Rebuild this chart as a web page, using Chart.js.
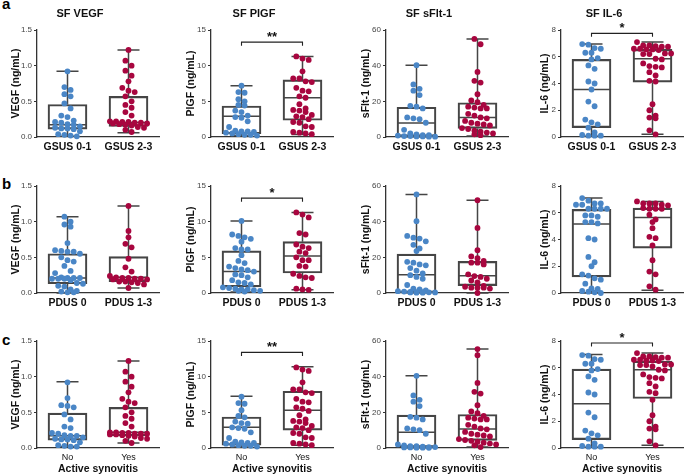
<!DOCTYPE html>
<html>
<head>
<meta charset="utf-8">
<script src="https://cdn.jsdelivr.net/npm/chart.js@4.4.0/dist/chart.umd.min.js"></script>
<style>
  body { margin: 0; background: #fff; }
  #wrap { position: relative; width: 685px; height: 475px; overflow: hidden; }
  #wrap canvas { position: absolute; }
  .tag { position: absolute; font: bold 15px 'Liberation Sans', Arial, sans-serif; line-height: 15px; color: #000; }
</style>
</head>
<body>
<div id="wrap">
  <div class="tag" style="left:2px;top:-4px">a</div>
  <div class="tag" style="left:2px;top:176px">b</div>
  <div class="tag" style="left:2px;top:332px">c</div>
</div>
<script>
// group labels per row
var gsusLabels = ['GSUS 0-1', 'GSUS 2-3'];
var pdusLabels = ['PDUS 0', 'PDUS 1-3'];
var synovitisLabels = ['No', 'Yes'];

var panelTitles = ['SF VEGF', 'SF PlGF', 'SF sFlt-1', 'SF IL-6'];
var yTitles = ['VEGF (ng/mL)', 'PlGF (ng/mL)', 'sFlt-1 (ng/mL)', 'IL-6 (ng/mL)'];
var yMax = [1.5, 15, 60, 8];
var yStep = [0.5, 5, 20, 2];

// ---- row a: GSUS ----
var gsusVegfLow = [0.92, 0.70, 0.66, 0.60, 0.57, 0.47, 0.40, 0.30, 0.28, 0.23, 0.21, 0.20, 0.18, 0.17, 0.15, 0.13, 0.12, 0.12, 0.11, 0.08, 0.04, 0.03, 0.02, 0.01];
var gsusVegfHigh = [1.22, 1.07, 1.00, 0.93, 0.86, 0.78, 0.69, 0.65, 0.63, 0.57, 0.50, 0.45, 0.41, 0.35, 0.30, 0.22, 0.22, 0.21, 0.21, 0.20, 0.20, 0.19, 0.19, 0.18, 0.17, 0.16, 0.14, 0.13, 0.10, 0.07];
var gsusPlgfLow = [7.2, 6.3, 6.2, 5.3, 5.0, 4.5, 4.4, 3.7, 3.5, 3.0, 2.8, 2.7, 2.2, 1.4, 0.9, 0.8, 0.8, 0.7, 0.6, 0.5, 0.4, 0.3, 0.3, 0.2];
var gsusPlgfHigh = [11.3, 11.0, 10.8, 9.2, 8.2, 8.2, 7.8, 7.7, 6.9, 6.5, 6.4, 5.7, 5.5, 4.6, 4.0, 3.8, 3.7, 3.5, 3.1, 2.9, 2.8, 2.5, 2.1, 2.0, 1.5, 1.4, 0.7, 0.6, 0.5, 0.4];
var gsusSfltLow = [40.3, 29.5, 27, 26, 23.5, 17.5, 17, 16, 11, 10.5, 10, 8, 4, 2, 1.5, 1, 1, 0.8, 0.5, 0.5, 0.3, 0.3, 0.2, 0.2];
var gsusSfltHigh = [55, 52, 36.5, 31.5, 30.5, 24, 20.5, 19.5, 18, 17, 16.5, 16, 16, 13, 12, 11, 10.5, 9, 8, 7.5, 7, 6.5, 5, 4.5, 3.5, 3, 2.5, 2, 1.5, 1];
var gsusIl6Low = [6.95, 6.9, 6.65, 6.6, 6.3, 6.3, 5.9, 5.8, 5.35, 5.1, 4.15, 4.0, 3.55, 2.65, 2.3, 1.3, 1.1, 0.95, 0.7, 0.35, 0.15, 0.1, 0.1, 0.1];
var gsusIl6High = [7.1, 6.85, 6.85, 6.8, 6.75, 6.75, 6.6, 6.6, 6.55, 6.55, 6.5, 6.25, 6.25, 6.2, 6.2, 5.85, 5.8, 5.5, 5.3, 5.25, 5.2, 4.85, 4.6, 4.2, 4.15, 2.45, 2.0, 1.6, 1.45, 1.4, 0.5, 0.2];
// box stats: [min, q1, median, q3, max]
var gsusVegfBox = [[0.01, 0.11, 0.17, 0.455, 0.92], [0.06, 0.15, 0.205, 0.57, 1.22]];
var gsusPlgfBox = [[0.2, 0.45, 2.9, 4.35, 7.2], [0.35, 2.35, 5.5, 8.0, 11.3]];
var gsusSfltBox = [[0.2, 0.4, 7.8, 16.7, 40.3], [0.5, 4.8, 11, 19.2, 55]];
var gsusIl6Box = [[0.05, 0.7, 3.55, 5.8, 6.95], [0.2, 4.1, 5.85, 6.55, 7.1]];
var gsusStars = ['', '**', '', '*'];
var gsusBracket = [null, 13.3, null, 7.75];

// ---- row b: PDUS ----
var pdusVegfLow = [1.07, 1.0, 0.96, 0.93, 0.70, 0.60, 0.59, 0.58, 0.58, 0.55, 0.50, 0.46, 0.44, 0.38, 0.31, 0.28, 0.22, 0.21, 0.21, 0.21, 0.20, 0.20, 0.20, 0.18, 0.14, 0.13, 0.10, 0.09, 0.05, 0.03, 0.02, 0.01, 0.01];
var pdusVegfHigh = [1.22, 0.87, 0.78, 0.69, 0.64, 0.48, 0.36, 0.30, 0.24, 0.22, 0.21, 0.21, 0.20, 0.20, 0.19, 0.19, 0.16, 0.16, 0.15, 0.14, 0.12, 0.07];
var pdusPlgfLow = [10.1, 8.2, 8.0, 7.8, 7.6, 7.2, 6.3, 6.1, 6.1, 5.3, 4.5, 4.2, 3.7, 3.5, 3.3, 3.2, 3.0, 2.6, 2.5, 2.2, 1.8, 1.5, 1.4, 1.2, 0.8, 0.7, 0.6, 0.5, 0.5, 0.4, 0.3, 0.3, 0.2];
var pdusPlgfHigh = [11.3, 11.0, 10.6, 8.4, 8.2, 6.8, 6.5, 6.3, 5.8, 5.6, 5.0, 4.6, 4.6, 3.8, 3.7, 2.7, 2.4, 2.2, 2.1, 0.6, 0.5, 0.45];
var pdusSfltLow = [55.3, 40.3, 32, 31, 30.5, 29, 27, 25, 23.5, 17.5, 17, 16, 15.5, 14, 12.5, 11, 10, 9, 8, 4.5, 2.5, 2, 1.5, 1, 0.8, 0.6, 0.5, 0.5, 0.4, 0.3, 0.3, 0.2, 0.2];
var pdusSfltHigh = [52, 36.5, 24, 20.5, 19.5, 18, 17, 17, 16, 10.5, 9.5, 9, 8, 7, 6, 4, 3.5, 3, 3, 3, 2.5, 0];
var pdusIl6Low = [7.1, 6.9, 6.7, 6.7, 6.6, 6.6, 6.3, 6.3, 6.3, 6.3, 5.8, 5.8, 5.7, 5.3, 5.3, 5.2, 4.1, 4.0, 2.7, 2.3, 2.0, 1.4, 1.3, 1.1, 1.0, 0.7, 0.35, 0.3, 0.15, 0.1, 0.05, 0.0];
var pdusIl6High = [6.85, 6.7, 6.7, 6.7, 6.6, 6.55, 6.35, 6.3, 6.3, 6.3, 5.85, 5.5, 5.3, 4.85, 4.2, 4.1, 3.55, 2.45, 1.6, 1.4, 0.5, 0.25];
var pdusVegfBox = [[0.0, 0.13, 0.21, 0.55, 1.07], [0.07, 0.16, 0.22, 0.51, 1.22]];
var pdusPlgfBox = [[0.15, 0.85, 3.0, 5.9, 10.1], [0.45, 2.8, 5.2, 7.2, 11.3]];
var pdusSfltBox = [[0.2, 0.3, 10.2, 21.8, 55.3], [0, 4.1, 9.7, 17.7, 52]];
var pdusIl6Box = [[0, 1.2, 5.15, 6.25, 7.1], [0.2, 3.35, 5.65, 6.35, 6.85]];
var pdusStars = ['', '*', '', ''];
var pdusBracket = [null, 13.3, null, null];

// ---- row c: active synovitis ----
var synVegfNo = [0.92, 0.70, 0.60, 0.59, 0.57, 0.47, 0.40, 0.30, 0.28, 0.21, 0.20, 0.18, 0.17, 0.17, 0.15, 0.13, 0.12, 0.12, 0.11, 0.08, 0.04, 0.03, 0.02, 0.02];
var synVegfYes = [1.22, 1.07, 1.00, 0.93, 0.86, 0.78, 0.69, 0.65, 0.63, 0.57, 0.50, 0.45, 0.41, 0.35, 0.30, 0.22, 0.22, 0.21, 0.21, 0.20, 0.20, 0.20, 0.19, 0.19, 0.18, 0.17, 0.16, 0.14, 0.13, 0.10, 0.07];
var synPlgfNo = [7.2, 6.3, 6.2, 5.3, 4.5, 4.3, 3.7, 3.5, 3.4, 2.9, 2.8, 2.7, 2.2, 1.4, 0.9, 0.8, 0.7, 0.7, 0.6, 0.5, 0.4, 0.3, 0.3, 0.2];
var synPlgfYes = [11.3, 11.0, 10.8, 9.2, 8.2, 8.2, 7.8, 7.7, 6.9, 6.5, 6.4, 5.7, 5.5, 5.2, 4.6, 4.0, 3.8, 3.7, 3.5, 3.1, 2.9, 2.8, 2.5, 2.1, 2.0, 1.5, 1.4, 0.7, 0.6, 0.5, 0.4];
var synSfltNo = [40.5, 29.5, 27, 26, 23.5, 17.5, 17, 16, 11, 10.5, 10, 8, 2, 1.5, 1, 1, 0.8, 0.5, 0.5, 0.3, 0.3, 0.2, 0.2, 0.1];
var synSfltYes = [55.5, 52, 36.5, 31.5, 30.5, 24, 20.5, 19.5, 18, 17, 16.5, 16, 16, 13, 12, 11, 10.5, 9, 8, 7.5, 7, 6.5, 5, 4.5, 4, 3.5, 3, 2.5, 2, 1.5, 0.5];
var synIl6No = [6.95, 6.9, 6.65, 6.6, 6.3, 6.3, 5.9, 5.8, 5.35, 5.1, 4.15, 4.0, 2.65, 2.3, 1.3, 1.1, 0.95, 0.7, 0.35, 0.15, 0.1, 0.1, 0.1];
var synIl6Yes = [7.1, 6.85, 6.85, 6.8, 6.75, 6.75, 6.6, 6.6, 6.55, 6.55, 6.5, 6.25, 6.25, 6.2, 6.2, 6.1, 5.85, 5.8, 5.5, 5.3, 5.25, 5.2, 4.85, 4.6, 4.2, 4.1, 3.6, 2.45, 2.0, 1.6, 1.45, 1.4, 0.5, 0.2];
var synVegfBox = [[0.02, 0.11, 0.17, 0.49, 0.93], [0.07, 0.17, 0.22, 0.57, 1.22]];
var synPlgfBox = [[0.15, 0.4, 2.9, 4.35, 7.25], [0.4, 2.5, 5.3, 7.95, 11.4]];
var synSfltBox = [[0.1, 0.5, 8.8, 18.4, 40.5], [0.5, 4.3, 10.7, 18.8, 55.5]];
var synIl6Box = [[0.05, 0.63, 3.3, 5.9, 7.0], [0.2, 3.7, 5.85, 6.5, 7.1]];
var synStars = ['', '**', '', '*'];
var synBracket = [null, 13.4, null, 7.85];

var blue = '#4A86C6';
var red = '#A8063F';
var lineGrey = '#454545';
var axisGrey = '#333333';

Chart.defaults.font.family = "'Liberation Sans', Arial, sans-serif";

// layout of the plot areas
var colLeft = [37, 211, 386, 561];
var rowTop = [30, 186, 341];
var AXIS_W = 36, PLOT_W = 122, PLOT_H = 107;
var yTitlePad = [9, 10, 10, 14];

// prism-like scatter: spread points of similar value side by side
function swarm(values, center, top) {
  var rowH = top * 5.6 / PLOT_H;
  var dx = 6.2 / (PLOT_W / 2);
  var sorted = values.slice().sort(function (a, b) { return b - a; });
  var pts = [];
  var row = [];
  function flush() {
    row.forEach(function (v, i) {
      pts.push({ x: center + (i - (row.length - 1) / 2) * dx, y: v });
    });
    row = [];
  }
  sorted.forEach(function (v) {
    if (row.length && (row[0] - v >= rowH || row.length >= 7)) flush();
    row.push(v);
  });
  flush();
  return pts;
}

function boxPlugin(stats, star, bracket) {
  return {
    id: 'boxWhisker',
    beforeDatasetsDraw: function (chart) {
      var xs = chart.scales.x, ys = chart.scales.y, ctx = chart.ctx;
      ctx.save();
      ctx.strokeStyle = lineGrey;
      ctx.lineWidth = 1.5;
      stats.forEach(function (s, i) {
        var cx = xs.getPixelForValue(i + 1);
        var yMin = ys.getPixelForValue(s[0]);
        var yQ1 = ys.getPixelForValue(s[1]);
        var yMed = ys.getPixelForValue(s[2]);
        var yQ3 = ys.getPixelForValue(s[3]);
        var yMx = ys.getPixelForValue(s[4]);
        ctx.beginPath();
        ctx.moveTo(cx, yMx); ctx.lineTo(cx, yQ3);
        ctx.moveTo(cx, yQ1); ctx.lineTo(cx, yMin);
        ctx.moveTo(cx - 11, yMx); ctx.lineTo(cx + 11, yMx);
        ctx.moveTo(cx - 11, yMin); ctx.lineTo(cx + 11, yMin);
        ctx.moveTo(cx - 19, yMed); ctx.lineTo(cx + 19, yMed);
        ctx.stroke();
      });
      ctx.restore();
    },
    afterDatasetsDraw: function (chart) {
      if (!star) return;
      var xs = chart.scales.x, ys = chart.scales.y, ctx = chart.ctx;
      var x1 = xs.getPixelForValue(1), x2 = xs.getPixelForValue(2);
      var yb = ys.getPixelForValue(bracket);
      ctx.save();
      ctx.strokeStyle = '#222';
      ctx.lineWidth = 1.1;
      ctx.beginPath();
      ctx.moveTo(x1, yb + 3.5); ctx.lineTo(x1, yb); ctx.lineTo(x2, yb); ctx.lineTo(x2, yb + 3.5);
      ctx.stroke();
      ctx.fillStyle = '#111';
      ctx.font = "bold 13px 'Liberation Sans', Arial, sans-serif";
      ctx.textAlign = 'center';
      ctx.textBaseline = 'alphabetic';
      ctx.fillText(star, (x1 + x2) / 2, yb - 1.5);
      ctx.restore();
    }
  };
}

function makePanel(row, col, labels, low, high, stats, star, bracket) {
  var wrap = document.getElementById('wrap');
  var canvas = document.createElement('canvas');
  var top = row === 0 ? 0 : rowTop[row] - 24;
  var xH = row === 2 ? 27 : 20;
  var w = AXIS_W * 2 + PLOT_W;
  var h = rowTop[row] - top + PLOT_H + xH;
  canvas.width = w;
  canvas.height = h;
  canvas.style.left = (colLeft[col] - AXIS_W) + 'px';
  canvas.style.top = top + 'px';
  canvas.style.width = w + 'px';
  canvas.style.height = h + 'px';
  wrap.appendChild(canvas);

  var lastRow = row === 2;
  new Chart(canvas.getContext('2d'), {
    type: 'scatter',
    data: {
      datasets: [
        {
          type: 'scatter',
          data: swarm(low, 1, yMax[col]),
          backgroundColor: blue,
          borderWidth: 0,
          pointRadius: 2.9,
          clip: false
        },
        {
          type: 'scatter',
          data: swarm(high, 2, yMax[col]),
          backgroundColor: red,
          borderWidth: 0,
          pointRadius: 2.9,
          clip: false
        },
        {
          type: 'bar',
          data: [
            { x: 1, y: [stats[0][1], stats[0][3]] },
            { x: 2, y: [stats[1][1], stats[1][3]] }
          ],
          backgroundColor: 'rgba(0,0,0,0)',
          borderColor: lineGrey,
          borderWidth: 1.5,
          borderSkipped: false,
          barThickness: 39,
          clip: false
        }
      ]
    },
    options: {
      responsive: false,
      animation: false,
      events: [],
      layout: { padding: { top: row === 0 ? 0 : 24, right: AXIS_W, left: 0, bottom: 0 } },
      plugins: {
        legend: { display: false },
        tooltip: { enabled: false },
        title: {
          display: row === 0,
          text: panelTitles[col],
          color: '#111',
          font: { size: 11, weight: 'bold' },
          padding: { top: 7, bottom: 9.8 }
        }
      },
      scales: {
        x: {
          type: 'linear',
          min: 0.5,
          max: 2.5,
          offset: false,
          afterBuildTicks: function (s) { s.ticks = [{ value: 1 }, { value: 2 }]; },
          afterFit: function (s) { s.height = xH; },
          ticks: {
            autoSkip: false,
            maxRotation: 0,
            padding: 4,
            color: '#111',
            font: lastRow ? { size: 9 } : { size: 10.5, weight: 'bold' },
            callback: function (v, i) { return labels[i]; }
          },
          grid: { display: false, drawTicks: false },
          border: { display: true, color: axisGrey, width: 1.3 },
          title: {
            display: lastRow,
            text: 'Active synovitis',
            color: '#111',
            font: { size: 10.5, weight: 'bold' },
            padding: { top: 0, bottom: 0 }
          }
        },
        y: {
          min: 0,
          max: yMax[col],
          afterFit: function (s) { s.width = AXIS_W; },
          ticks: {
            stepSize: yStep[col],
            padding: 2,
            color: '#444',
            font: { size: 8 },
            callback: function (v) { return col === 0 ? v.toFixed(1) : String(v); }
          },
          grid: { display: true, drawOnChartArea: false, drawTicks: true, tickLength: 3, color: axisGrey },
          border: { display: true, color: axisGrey, width: 1.3 },
          title: {
            display: true,
            text: yTitles[col],
            color: '#111',
            font: { size: 10.5, weight: 'bold' },
            padding: { top: yTitlePad[col], bottom: 0 }
          }
        }
      }
    },
    plugins: [boxPlugin(stats, star, bracket)]
  });
}

// row a
makePanel(0, 0, gsusLabels, gsusVegfLow, gsusVegfHigh, gsusVegfBox, gsusStars[0], gsusBracket[0]);
makePanel(0, 1, gsusLabels, gsusPlgfLow, gsusPlgfHigh, gsusPlgfBox, gsusStars[1], gsusBracket[1]);
makePanel(0, 2, gsusLabels, gsusSfltLow, gsusSfltHigh, gsusSfltBox, gsusStars[2], gsusBracket[2]);
makePanel(0, 3, gsusLabels, gsusIl6Low, gsusIl6High, gsusIl6Box, gsusStars[3], gsusBracket[3]);
// row b
makePanel(1, 0, pdusLabels, pdusVegfLow, pdusVegfHigh, pdusVegfBox, pdusStars[0], pdusBracket[0]);
makePanel(1, 1, pdusLabels, pdusPlgfLow, pdusPlgfHigh, pdusPlgfBox, pdusStars[1], pdusBracket[1]);
makePanel(1, 2, pdusLabels, pdusSfltLow, pdusSfltHigh, pdusSfltBox, pdusStars[2], pdusBracket[2]);
makePanel(1, 3, pdusLabels, pdusIl6Low, pdusIl6High, pdusIl6Box, pdusStars[3], pdusBracket[3]);
// row c
makePanel(2, 0, synovitisLabels, synVegfNo, synVegfYes, synVegfBox, synStars[0], synBracket[0]);
makePanel(2, 1, synovitisLabels, synPlgfNo, synPlgfYes, synPlgfBox, synStars[1], synBracket[1]);
makePanel(2, 2, synovitisLabels, synSfltNo, synSfltYes, synSfltBox, synStars[2], synBracket[2]);
makePanel(2, 3, synovitisLabels, synIl6No, synIl6Yes, synIl6Box, synStars[3], synBracket[3]);
</script>
</body>
</html>
